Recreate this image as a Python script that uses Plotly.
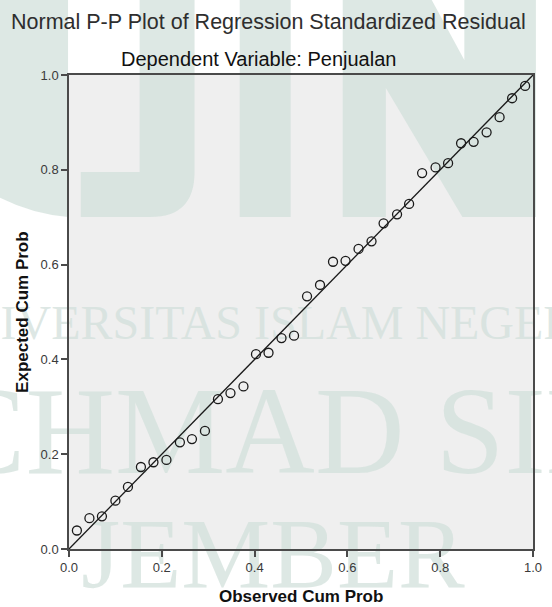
import plotly.graph_objects as go

# ---------------- data ----------------
observed_cum_prob = [0.017, 0.044, 0.071, 0.100, 0.127, 0.155, 0.182, 0.210, 0.239,
                     0.265, 0.293, 0.321, 0.348, 0.376, 0.403, 0.430, 0.458, 0.485,
                     0.513, 0.541, 0.569, 0.596, 0.624, 0.652, 0.678, 0.707, 0.733,
                     0.761, 0.790, 0.817, 0.845, 0.872, 0.900, 0.928, 0.955, 0.983]
expected_cum_prob = [0.039, 0.065, 0.069, 0.102, 0.131, 0.173, 0.183, 0.188, 0.225,
                     0.232, 0.249, 0.316, 0.329, 0.343, 0.411, 0.414, 0.445, 0.450,
                     0.533, 0.557, 0.606, 0.608, 0.633, 0.649, 0.687, 0.706, 0.728,
                     0.793, 0.805, 0.814, 0.856, 0.859, 0.879, 0.911, 0.951, 0.977]
reference_line = [0.0, 1.0]
tick_values = [0.0, 0.2, 0.4, 0.6, 0.8, 1.0]
tick_labels = ["0.0", "0.2", "0.4", "0.6", "0.8", "1.0"]

title_text = "Normal P-P Plot of Regression Standardized Residual"
subtitle_text = "Dependent Variable: Penjualan"
x_title = "Observed Cum Prob"
y_title = "Expected Cum Prob"

# ---------------- layout geometry ----------------
W, H = 552, 607
ML, MR, MT, MB = 69, 10, 75, 58
PW, PH = W - ML - MR, H - MT - MB


def px(x):
    return (x - ML) / PW


def py(y):
    return (H - MB - y) / PH


FONT = "Liberation Sans, Arial, sans-serif"
SERIF = "Liberation Serif, Times New Roman, serif"
WM = "rgba(210,224,219,0.75)"
AXIS = "#4a4a4a"

fig = go.Figure()

fig.add_trace(go.Scatter(
    x=reference_line, y=reference_line, mode="lines",
    line=dict(color="#1a1a1a", width=1.3), hoverinfo="skip", showlegend=False,
))
fig.add_trace(go.Scatter(
    x=observed_cum_prob, y=expected_cum_prob, mode="markers",
    marker=dict(symbol="circle-open", size=9, color="#1a1a1a", line=dict(width=1.3)),
    showlegend=False,
))

# ---------------- watermark (drawn below the data) ----------------
def path(points):
    s = "M {:.4f},{:.4f}".format(px(points[0][0]), py(points[0][1]))
    for p in points[1:]:
        if len(p) == 4:
            s += " Q {:.4f},{:.4f} {:.4f},{:.4f}".format(px(p[0]), py(p[1]), px(p[2]), py(p[3]))
        else:
            s += " L {:.4f},{:.4f}".format(px(p[0]), py(p[1]))
    return s + " Z"


wm_paths = [
    # left blob
    [(-5, -5), (68, -5), (68, 217), (30, 214, -5, 196)],
    # J
    [(141, -5), (197, -5), (197, 172), (197, 217, 152, 217), (81, 217), (81, 172), (141, 172)],
    # I
    [(243, -5), (295, -5), (295, 217), (243, 217)],
    # N
    [(348, -5), (436, -5), (472, 60), (472, -5), (545, -5), (545, 217),
     (470, 217), (392, 88), (392, 217), (348, 217)],
]
shapes = []
for pts in wm_paths:
    shapes.append(dict(type="path", xref="paper", yref="paper", layer="below",
                       path=path(pts), fillcolor=WM, line=dict(width=0)))

wm_texts = [
    ("UNIVERSITAS ISLAM NEGERI", 265, 317, 48),
    ("ACHMAD SIDDIQ", 360, 417, 124),
    ("JEMBER", 277, 542, 100),
]
for txt, cx, cy, size in wm_texts:
    shapes.append(dict(
        type="rect", xref="paper", yref="paper", layer="below",
        x0=px(cx - 1), x1=px(cx + 1), y0=py(cy + 1), y1=py(cy - 1),
        line=dict(width=0), fillcolor="rgba(0,0,0,0)",
        label=dict(text=txt, textposition="middle center", padding=0,
                   font=dict(family=SERIF, size=size, color=WM)),
    ))

annotations = [
    dict(text=title_text, x=px(272), y=py(22), xref="paper", yref="paper",
         showarrow=False, xanchor="center", yanchor="middle",
         font=dict(family=FONT, size=21.5, color="#2e2e2e")),
    dict(text=subtitle_text, x=px(262), y=py(59), xref="paper", yref="paper",
         showarrow=False, xanchor="center", yanchor="middle",
         font=dict(family=FONT, size=20, color="#111111")),
    dict(text="<b>" + x_title + "</b>", x=0.5, y=py(596), xref="paper", yref="paper",
         showarrow=False, xanchor="center", yanchor="middle",
         font=dict(family=FONT, size=17, color="#111111")),
    dict(text="<b>" + y_title + "</b>", x=px(21), y=0.5, xref="paper", yref="paper",
         showarrow=False, xanchor="center", yanchor="middle", textangle=-90,
         font=dict(family=FONT, size=17, color="#111111")),
]

axis_common = dict(
    range=[0, 1], tickvals=tick_values, ticktext=tick_labels,
    showgrid=False, zeroline=False, showline=True, linecolor=AXIS, linewidth=1.5,
    mirror=True, ticks="outside", ticklen=6, tickwidth=1.5, tickcolor=AXIS,
    tickfont=dict(family=FONT, size=13, color="#3a3a3a"), fixedrange=True,
)

fig.update_layout(
    width=W, height=H,
    margin=dict(l=ML, r=MR, t=MT, b=MB, pad=0),
    paper_bgcolor="white", plot_bgcolor="#efefef",
    xaxis=dict(**axis_common),
    yaxis=dict(**axis_common),
    shapes=shapes, annotations=annotations,
    showlegend=False,
)

fig.write_html(
    "out.html",
    config={"displayModeBar": False},
    post_script="document.body.style.margin='0';document.body.style.padding='0';"
                "document.body.style.overflow='hidden';",
)
